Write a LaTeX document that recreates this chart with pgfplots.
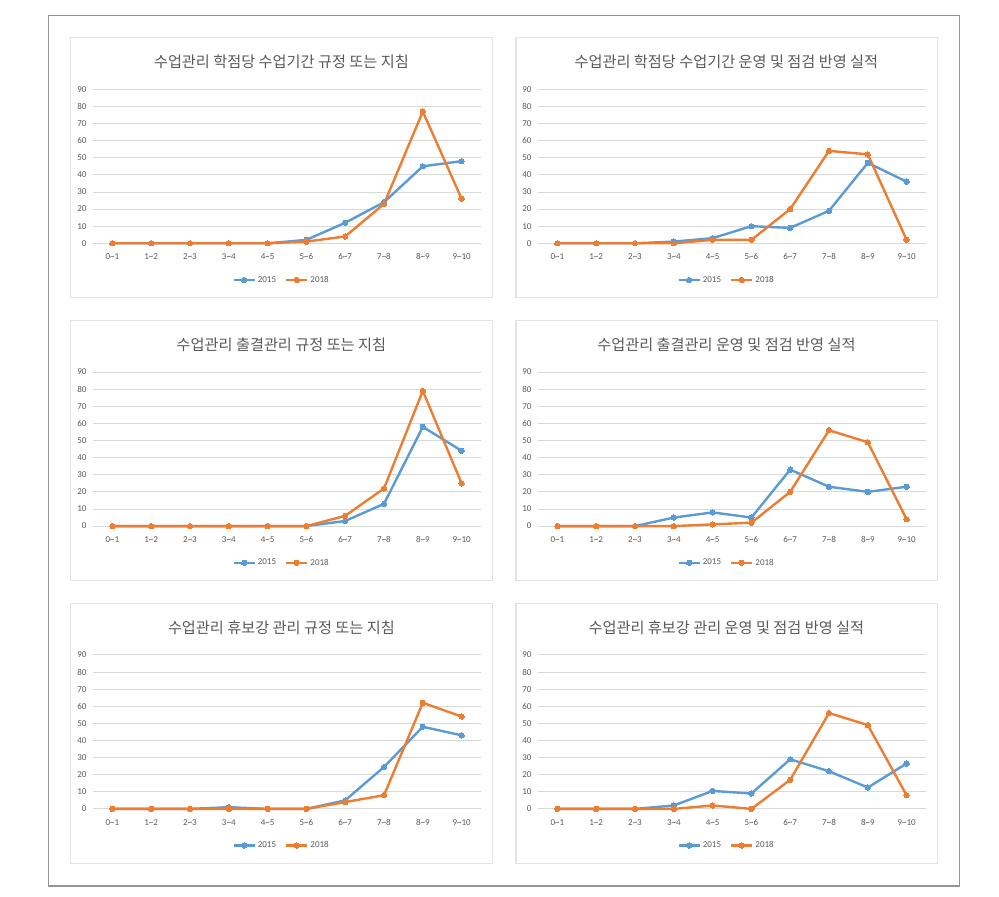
\documentclass[border=0pt]{standalone}
\usepackage{pgfplots}
\pgfplotsset{compat=1.18}
\usepackage{fontspec}
\setmainfont{Carlito}
\newfontfamily\kr{Noto Sans CJK KR}
\definecolor{c15}{HTML}{5B9BD5}
\definecolor{c18}{HTML}{ED7D31}
\definecolor{gridc}{HTML}{D9D9D9}
\definecolor{txtc}{HTML}{595959}
\definecolor{pborder}{HTML}{E3E3E3}
\definecolor{oborder}{HTML}{959595}
\pgfplotsset{
  panel/.style={
    scale only axis, width=388pt, height=154pt, anchor=south west,
    xmin=-0.5, xmax=9.5, ymin=0, ymax=90,
    xtick={0,...,9},
    xticklabels={0\textasciitilde1,1\textasciitilde2,2\textasciitilde3,3\textasciitilde4,4\textasciitilde5,5\textasciitilde6,6\textasciitilde7,7\textasciitilde8,8\textasciitilde9,9\textasciitilde10},
    ytick={0,10,...,90},
    ymajorgrids, grid style={color=gridc, line width=0.9pt},
    axis line style={draw=none}, major tick style={draw=none},
    tick label style={font=\fontsize{9}{10}\selectfont, text=txtc},
    /pgf/number format/assume math mode=true,
    yticklabel style={xshift=-3pt},
    xticklabel style={yshift=-7pt},
    clip=false,
    legend style={at={(0.486,-0.238)}, anchor=center, draw=none, fill=none,
      legend columns=2, font=\fontsize{9}{10}\selectfont, text=txtc,
      /tikz/every even column/.append style={column sep=7pt}},
    legend image code/.code={\draw[mark repeat=2,mark phase=2,##1] plot coordinates {(0pt,0pt)(10.5pt,0pt)(21pt,0pt)};},
  },
  s15/.style={color=c15, line width=2.4pt, mark=*, mark size=2.7pt, mark options={solid, fill=c15, line width=0pt}},
  s18/.style={color=c18, line width=2.4pt, mark=*, mark size=2.7pt, mark options={solid, fill=c18, line width=0pt}},
}
\newcommand\panel[6]{%
  \begin{axis}[panel, at={(#1pt,#2pt)}]
    \addplot[s15] coordinates {#4};
    \addplot[s18] coordinates {#5};
    \legend{2015,2018}
  \end{axis}
  \node[text=txtc, font=\kr\fontsize{15.2}{17}\selectfont] at ({#1pt+188.4pt},{#2pt+181.6pt}) {#3};
}
\begin{document}
\begin{tikzpicture}
\path[use as bounding box] (0pt,0pt) rectangle (999pt,897pt);
\draw[oborder, line width=1.2pt] (48.3pt,11pt) rectangle (959.3pt,881.7pt);
\foreach \yt/\yb in {859.3/599.3, 576.5/316.5, 293.7/33.7} {
  \draw[pborder, line width=1.5pt] (70.5pt,\yb pt) rectangle (492.3pt,\yt pt);
  \draw[pborder, line width=1.5pt] (516pt,\yb pt) rectangle (937.3pt,\yt pt);
}
\panel{93}{653.7}{수업관리 학점당 수업기간 규정 또는 지침}
 {(0,0)(1,0)(2,0)(3,0)(4,0)(5,2)(6,12)(7,24)(8,45)(9,48)}
 {(0,0)(1,0)(2,0)(3,0)(4,0)(5,1)(6,4)(7,23)(8,77)(9,26)}{}
\panel{538}{653.7}{수업관리 학점당 수업기간 운영 및 점검 반영 실적}
 {(0,0)(1,0)(2,0)(3,1)(4,3)(5,10)(6,9)(7,19)(8,47)(9,36)}
 {(0,0)(1,0)(2,0)(3,0)(4,2)(5,2)(6,20)(7,54)(8,52)(9,2)}{}
\panel{93}{370.9}{수업관리 출결관리 규정 또는 지침}
 {(0,0)(1,0)(2,0)(3,0)(4,0)(5,0)(6,3)(7,13)(8,58)(9,44)}
 {(0,0)(1,0)(2,0)(3,0)(4,0)(5,0)(6,6)(7,22)(8,79)(9,25)}{}
\panel{538}{370.9}{수업관리 출결관리 운영 및 점검 반영 실적}
 {(0,0)(1,0)(2,0)(3,5)(4,8)(5,5)(6,33)(7,23)(8,20)(9,23)}
 {(0,0)(1,0)(2,0)(3,0)(4,1)(5,2)(6,20)(7,56)(8,49)(9,4)}{}
\panel{93}{88.1}{수업관리 휴보강 관리 규정 또는 지침}
 {(0,0)(1,0)(2,0)(3,1)(4,0)(5,0)(6,5)(7,24.5)(8,48)(9,43)}
 {(0,0)(1,0)(2,0)(3,0)(4,0)(5,0)(6,4)(7,8)(8,62)(9,54)}{}
\panel{538}{88.1}{수업관리 휴보강 관리 운영 및 점검 반영 실적}
 {(0,0)(1,0)(2,0)(3,2)(4,10.5)(5,9)(6,29)(7,22)(8,12.5)(9,26.5)}
 {(0,0)(1,0)(2,0)(3,0)(4,2)(5,0)(6,17)(7,56)(8,49)(9,8)}{}
\end{tikzpicture}
\end{document}
